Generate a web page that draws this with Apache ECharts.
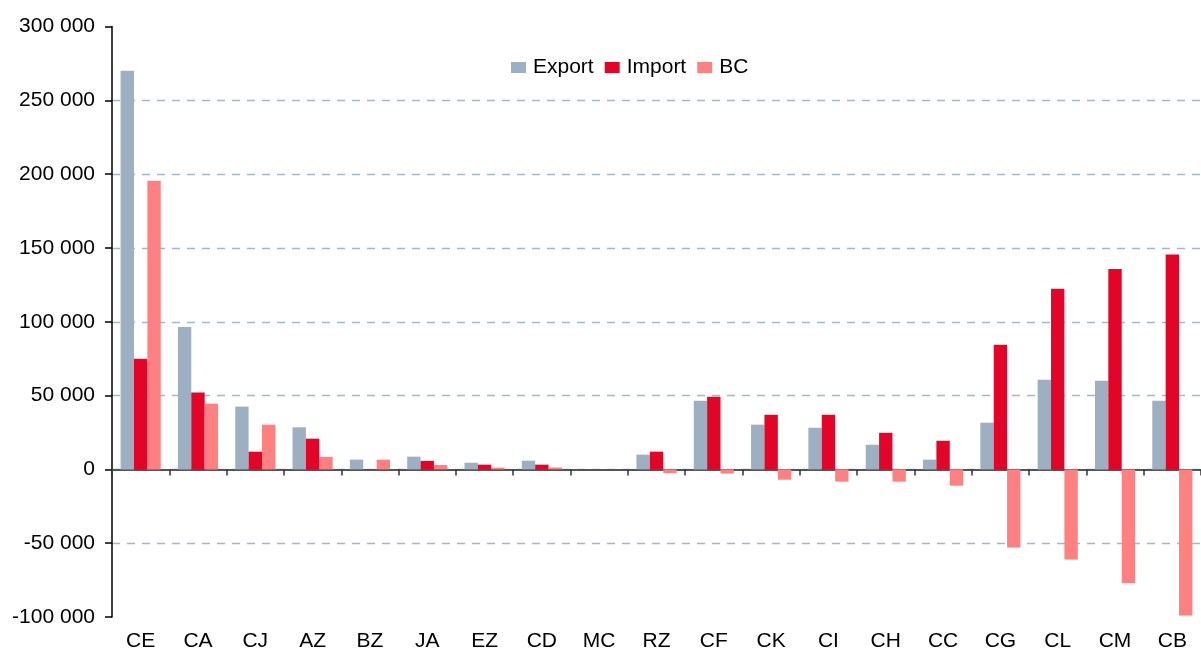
<!DOCTYPE html>
<html>
<head>
<meta charset="utf-8">
<script src="https://cdn.jsdelivr.net/npm/echarts@6/dist/echarts.min.js"></script>
<style>
html,body{margin:0;padding:0;background:#fff;overflow:hidden;}
#chart{width:1201px;height:648px;}
</style>
</head>
<body>
<div id="chart"></div>
<script>
const categories = ['CE','CA','CJ','AZ','BZ','JA','EZ','CD','MC','RZ','CF','CK','CI','CH','CC','CG','CL','CM','CB'];
const exportValues = [270000, 96500, 42500, 28500, 6600, 8600, 4500, 5900, 0, 10000, 46500, 30300, 28200, 16700, 6600, 31600, 60700, 60000, 46500];
const importValues = [75000, 52000, 12000, 20800, 0, 5800, 3200, 3200, 0, 12000, 49200, 37000, 37000, 24800, 19400, 84400, 122300, 135700, 145500];
const bcValues = [195500, 44500, 30300, 8500, 6600, 3000, 1200, 1300, 0, -2500, -2800, -7000, -8300, -8300, -11000, -53000, -61000, -77000, -99000];
const yTicks = {min: -100000, max: 300000, interval: 50000};

const fmt = v => {
  const neg = v < 0;
  const s = Math.abs(v).toString().replace(/\B(?=(\d{3})+(?!\d))/g, ' ');
  return (neg ? '-' : '') + s;
};

const chart = echarts.init(document.getElementById('chart'), null, {renderer: 'canvas'});
const font = 'Liberation Sans, Arial, Helvetica, sans-serif';
const barCommon = {type: 'bar', barGap: '0%', barCategoryGap: '30%', xAxisIndex: 0};
chart.setOption({
  animation: false,
  backgroundColor: '#fff',
  textStyle: {fontFamily: font},
  legend: {
    left: 506, top: 52,
    itemWidth: 15, itemHeight: 11, itemGap: 11,
    textStyle: {fontSize: 21, color: '#000', fontFamily: font, padding: [0, 0, 0, 2]},
    icon: 'rect',
    data: ['Export', 'Import', 'BC']
  },
  grid: {left: 112, right: 0, top: 26.5, bottom: 31, containLabel: false, outerBoundsMode: 'none'},
  xAxis: [
    {
      type: 'category', data: categories, position: 'bottom',
      axisLine: {show: true, onZero: true, lineStyle: {color: '#555', width: 2}},
      axisTick: {show: true, alignWithLabel: false, length: 6, lineStyle: {color: '#333', width: 1.5}},
      axisLabel: {show: false}
    },
    {
      type: 'category', data: categories, position: 'bottom',
      axisLine: {show: false, onZero: false},
      axisTick: {show: false},
      axisLabel: {show: true, fontSize: 21, lineHeight: 21, color: '#000', margin: 14, fontFamily: font}
    }
  ],
  yAxis: {
    type: 'value', min: yTicks.min, max: yTicks.max, interval: yTicks.interval,
    axisLine: {show: true, lineStyle: {color: '#000', width: 1.5}},
    axisTick: {show: true, length: 7, lineStyle: {color: '#000', width: 1.5}},
    axisLabel: {fontSize: 21, color: '#000', margin: 17, formatter: fmt, fontFamily: font},
    splitLine: {
      show: true, showMinLine: false, showMaxLine: false,
      lineStyle: {color: '#A3B8C9', width: 1.3, type: [8, 7]}
    }
  },
  series: [
    Object.assign({}, barCommon, {name: 'Export', data: exportValues, itemStyle: {color: '#9CB0C1'}}),
    Object.assign({}, barCommon, {name: 'Import', data: importValues, itemStyle: {color: '#E30427'}}),
    Object.assign({}, barCommon, {name: 'BC', data: bcValues, itemStyle: {color: '#FF8080'}})
  ]
});
</script>
</body>
</html>
